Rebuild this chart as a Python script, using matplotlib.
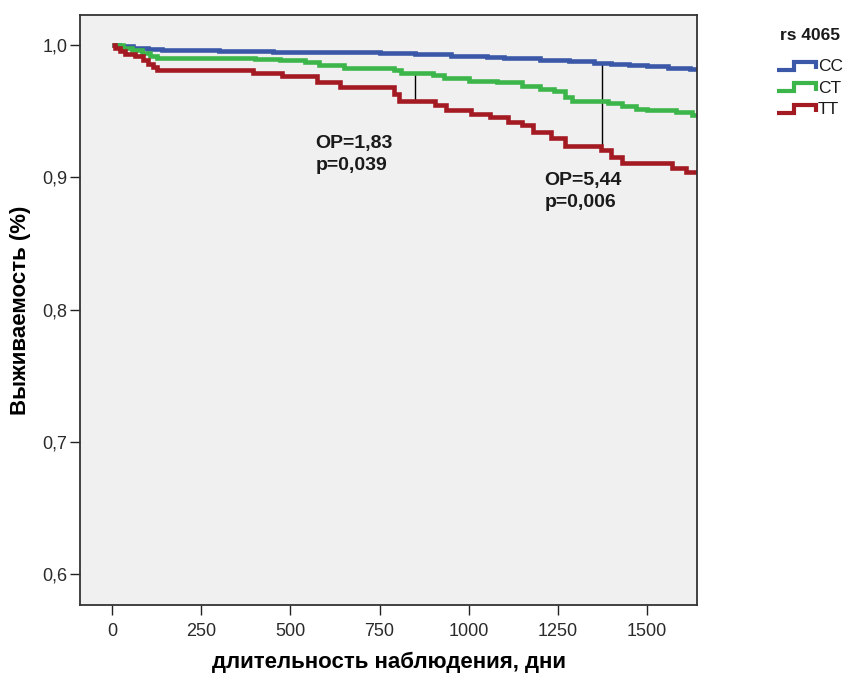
import numpy as np
import matplotlib
matplotlib.use("Agg")
import matplotlib.pyplot as plt
from matplotlib.legend_handler import HandlerBase
from matplotlib.lines import Line2D

# ---- data ----
cc_days = [0, 20, 60, 100, 140, 300, 450, 550, 650, 750, 850, 950, 1050, 1100, 1200, 1280, 1350, 1400, 1450, 1500, 1560, 1620]
cc_surv = [1.0, 0.999, 0.998, 0.997, 0.996, 0.9955, 0.995, 0.9948, 0.9945, 0.994, 0.993, 0.992, 0.991, 0.990, 0.989, 0.988, 0.9865, 0.9855, 0.985, 0.984, 0.983, 0.982]

ct_days = [0, 30, 55, 85, 105, 125, 400, 470, 540, 580, 650, 790, 810, 900, 930, 1000, 1080, 1150, 1200, 1240, 1270, 1290, 1390, 1430, 1470, 1500, 1580, 1625]
ct_surv = [1.0, 0.998, 0.996, 0.994, 0.992, 0.990, 0.9895, 0.9888, 0.987, 0.985, 0.9826, 0.981, 0.979, 0.977, 0.975, 0.973, 0.972, 0.969, 0.967, 0.965, 0.961, 0.958, 0.956, 0.954, 0.952, 0.951, 0.949, 0.947]

tt_days = [0, 8, 22, 36, 64, 87, 101, 115, 126, 395, 477, 575, 640, 790, 805, 905, 935, 1005, 1060, 1110, 1150, 1180, 1230, 1270, 1370, 1400, 1430, 1570, 1610]
tt_surv = [1.0, 0.9977, 0.9955, 0.9932, 0.9917, 0.9887, 0.9856, 0.9834, 0.981, 0.9788, 0.9766, 0.972, 0.968, 0.963, 0.958, 0.9546, 0.951, 0.948, 0.9456, 0.942, 0.9395, 0.934, 0.930, 0.924, 0.9206, 0.915, 0.911, 0.907, 0.904]

end_day = 1640
groups = ["CC", "CT", "TT"]
legend_title = "rs 4065"

compare_days = [850, 1374]
compare_from = ["CT", "CC"]
compare_texts = ["OP=1,83\np=0,039", "OP=5,44\np=0,006"]
compare_text_pos = [(570, 0.9318), (1212, 0.9042)]

x_ticks = [0, 250, 500, 750, 1000, 1250, 1500]
y_ticks = [0.6, 0.7, 0.8, 0.9, 1.0]
y_tick_labels = ["0,6", "0,7", "0,8", "0,9", "1,0"]

colors = {"CC": "#3b58a8", "CT": "#3cb54a", "TT": "#a31a22"}
series = {"CC": (cc_days, cc_surv), "CT": (ct_days, ct_surv), "TT": (tt_days, tt_surv)}


def surv_at(name, day):
    d, s = series[name]
    idx = np.searchsorted(np.asarray(d), day, side="right") - 1
    return s[idx]


class StepHandler(HandlerBase):
    def create_artists(self, legend, orig_handle, xdescent, ydescent,
                       width, height, fontsize, trans):
        w, h = width, height
        x0, y0 = -xdescent, -ydescent
        xs = [x0, x0 + 0.44 * w, x0 + 0.44 * w, x0 + w, x0 + w]
        ys = [y0 + 0.1 * h, y0 + 0.1 * h, y0 + 0.75 * h, y0 + 0.75 * h, y0 + 0.15 * h]
        ln = Line2D(xs, ys, color=orig_handle.get_color(), lw=3.0,
                    solid_joinstyle="miter", solid_capstyle="butt", transform=trans)
        return [ln]


plt.rcParams["font.family"] = ["Liberation Sans", "DejaVu Sans"]

fig = plt.figure(figsize=(8.43, 6.73), dpi=100)
ax = fig.add_axes([80 / 843, 1 - 605 / 673, 617 / 843, 590 / 673])
ax.set_facecolor("#f0f0f0")

handles = []
for g in groups:
    d, s = series[g]
    dd = list(d) + [end_day]
    ss = list(s) + [s[-1]]
    ln, = ax.step(dd, ss, where="post", color=colors[g], lw=3.3, solid_joinstyle="miter",
                  solid_capstyle="butt", label=g)
    handles.append(ln)

for day, top_grp, txt, pos in zip(compare_days, compare_from, compare_texts, compare_text_pos):
    ax.vlines(day, surv_at("TT", day), surv_at(top_grp, day), color="black", lw=1.0, zorder=1)
    ax.text(pos[0], pos[1], txt, fontsize=14, fontweight="bold", va="top", ha="left",
            linespacing=1.38, color="#1a1a1a")

ax.set_xlim(-90, 1640)
ax.set_ylim(0.5766, 1.0227)
ax.set_xticks(x_ticks)
ax.set_xticklabels([str(t) for t in x_ticks])
ax.set_yticks(y_ticks)
ax.set_yticklabels(y_tick_labels)
ax.tick_params(axis="both", direction="out", length=7, width=1.0, labelsize=13,
               color="#222222", labelcolor="#2a2a2a")
ax.tick_params(axis="x", pad=6)
ax.tick_params(axis="y", pad=2)
for sp in ax.spines.values():
    sp.set_color("#333333")
    sp.set_linewidth(1.3)

ax.set_ylabel("Выживаемость (%)", fontsize=16, fontweight="bold", labelpad=8)
ax.set_xlabel("длительность наблюдения, дни", fontsize=16, fontweight="bold", labelpad=8.5)

fig.text(840 / 843, 1 - 35 / 673, legend_title, ha="right", va="center",
         fontsize=12.5, fontweight="bold", color="#1a1a1a")
leg = fig.legend(handles=handles, labels=groups,
                 handler_map={Line2D: StepHandler()},
                 loc="upper right", bbox_to_anchor=(843 / 843, 1 - 59 / 673),
                 frameon=False, fontsize=12.5,
                 handlelength=2.25, handleheight=0.7, handletextpad=0.12,
                 labelspacing=0.36, borderpad=0, borderaxespad=0)
for t in leg.get_texts():
    t.set_color("#1a1a1a")

fig.savefig("out.png", dpi=100, facecolor="white")
